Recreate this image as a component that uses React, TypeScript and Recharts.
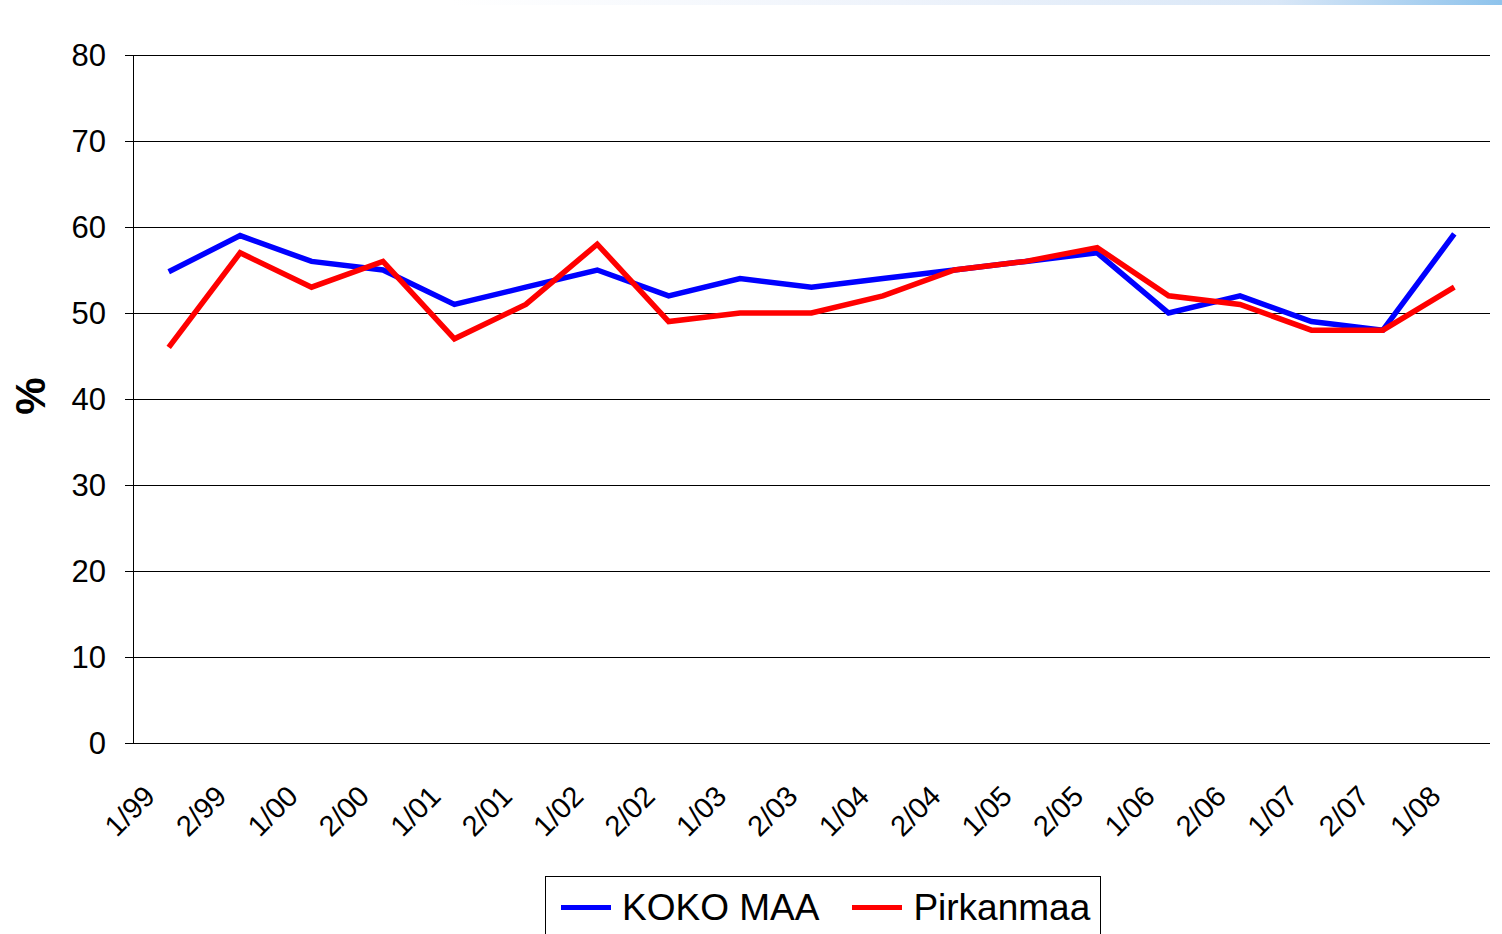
import React from 'react';
import { LineChart, Line, XAxis, YAxis, CartesianGrid, Legend } from 'recharts';

const categories = ['1/99', '2/99', '1/00', '2/00', '1/01', '2/01', '1/02', '2/02', '1/03', '2/03', '1/04', '2/04', '1/05', '2/05', '1/06', '2/06', '1/07', '2/07', '1/08'];
const kokoMaa = [54.8, 59, 56, 55, 51, 53, 55, 52, 54, 53, 54, 55, 56, 57, 50, 52, 49, 48, 59.2];
const pirkanmaa = [46, 57, 53, 56, 47, 51, 58, 49, 50, 50, 52, 55, 56, 57.6, 52, 51, 48, 48, 53];
const yTicks = [0, 10, 20, 30, 40, 50, 60, 70, 80];
const seriesNames = ['KOKO MAA', 'Pirkanmaa'];
const yLabel = '%';

const boundaryTicks = categories.map((_, i) => i).concat(categories.length);
const labelTicks = categories.map((_, i) => i + 0.5);
const data = categories.map((c, i) => ({ pos: i + 0.5, label: c, koko: kokoMaa[i], pirk: pirkanmaa[i] }));

const FONT = '"Liberation Sans", Arial, Helvetica, sans-serif';

const XLabel = (props: any) => {
  const { x, y, payload } = props;
  const idx = Math.floor(payload.value);
  return (
    <g transform={`translate(${x - 12},${y + 47})`}>
      <text textAnchor="end" transform="rotate(-45)" fontSize={29} fontFamily={FONT} fill="#000">
        {categories[idx]}
      </text>
    </g>
  );
};

const YTitle = (props: any) => {
  const vb = props.viewBox || { x: 0, y: 55, width: 133, height: 688 };
  const cx = vb.x + 45;
  const cy = vb.y + vb.height / 2 - 3;
  return (
    <text x={cx} y={cy} textAnchor="middle" transform={`rotate(-90 ${cx} ${cy})`} fontSize={42} fontWeight="bold" fontFamily={FONT} fill="#000">
      {yLabel}
    </text>
  );
};

const renderLegend = (props: any) => {
  const payload = props.payload || [];
  return (
    <div style={{ display: 'flex', alignItems: 'center', border: '1px solid #000', height: 62, boxSizing: 'border-box', paddingLeft: 15, fontFamily: FONT, fontSize: 37, lineHeight: '37px', color: '#000', background: '#fff', whiteSpace: 'nowrap' }}>
      {payload.map((entry: any, i: number) => (
        <div key={i} style={{ display: 'flex', alignItems: 'center', marginRight: 33, whiteSpace: 'nowrap', flexShrink: 0 }}>
          <span style={{ display: 'inline-block', width: 50, height: 5, background: entry.color, marginRight: 11, flexShrink: 0 }} />
          <span>{entry.value}</span>
        </div>
      ))}
    </div>
  );
};

export default function App() {
  return (
    <div style={{ position: 'absolute', left: 0, top: 0, width: 1502, height: 934, overflow: 'hidden', background: '#fff' }}>
      <style>{`.recharts-cartesian-grid line, .recharts-cartesian-axis-line, .recharts-cartesian-axis-tick-line { shape-rendering: crispEdges; }`}</style>
      <LineChart width={1502} height={934} data={data} margin={{ top: 55, right: 12, left: 0, bottom: 0 }}>
        <XAxis
          xAxisId="b"
          type="number"
          dataKey="pos"
          domain={[0, categories.length]}
          ticks={boundaryTicks}
          interval={0}
          tick={false}
          tickSize={10}
          height={0}
          axisLine={{ stroke: '#000', strokeWidth: 1 }}
          tickLine={{ stroke: '#000', strokeWidth: 1 }}
        />
        <XAxis
          xAxisId="l"
          type="number"
          dataKey="pos"
          domain={[0, categories.length]}
          ticks={labelTicks}
          interval={0}
          tick={<XLabel />}
          axisLine={false}
          tickLine={false}
          height={191}
        />
        <YAxis
          width={133}
          domain={[0, 80]}
          ticks={yTicks}
          interval={0}
          tickSize={8}
          tickMargin={19}
          tick={{ fontSize: 31, fill: '#000', fontFamily: FONT }}
          axisLine={{ stroke: '#000', strokeWidth: 1 }}
          tickLine={{ stroke: '#000', strokeWidth: 1 }}
          label={{ content: <YTitle /> }}
        />
        <CartesianGrid xAxisId="l" vertical={false} stroke="#000" strokeWidth={1} />
        <Line xAxisId="l" type="linear" dataKey="koko" name={seriesNames[0]} stroke="#0000ff" strokeWidth={5.5} dot={false} activeDot={false} isAnimationActive={false} />
        <Line xAxisId="l" type="linear" dataKey="pirk" name={seriesNames[1]} stroke="#ff0000" strokeWidth={5.5} dot={false} activeDot={false} isAnimationActive={false} />
        <Legend
          layout="horizontal"
          verticalAlign="middle"
          align="center"
          content={renderLegend}
          wrapperStyle={{ left: 545, top: 876, width: 556, height: 62 }}
        />
      </LineChart>
      <div style={{ position: 'absolute', left: 0, top: 0, width: 1502, height: 5, background: 'linear-gradient(to right, #ffffff 30%, #eef3fb 60%, #d9e7f7 85%, #8ec3ec 100%)' }} />
    </div>
  );
}
